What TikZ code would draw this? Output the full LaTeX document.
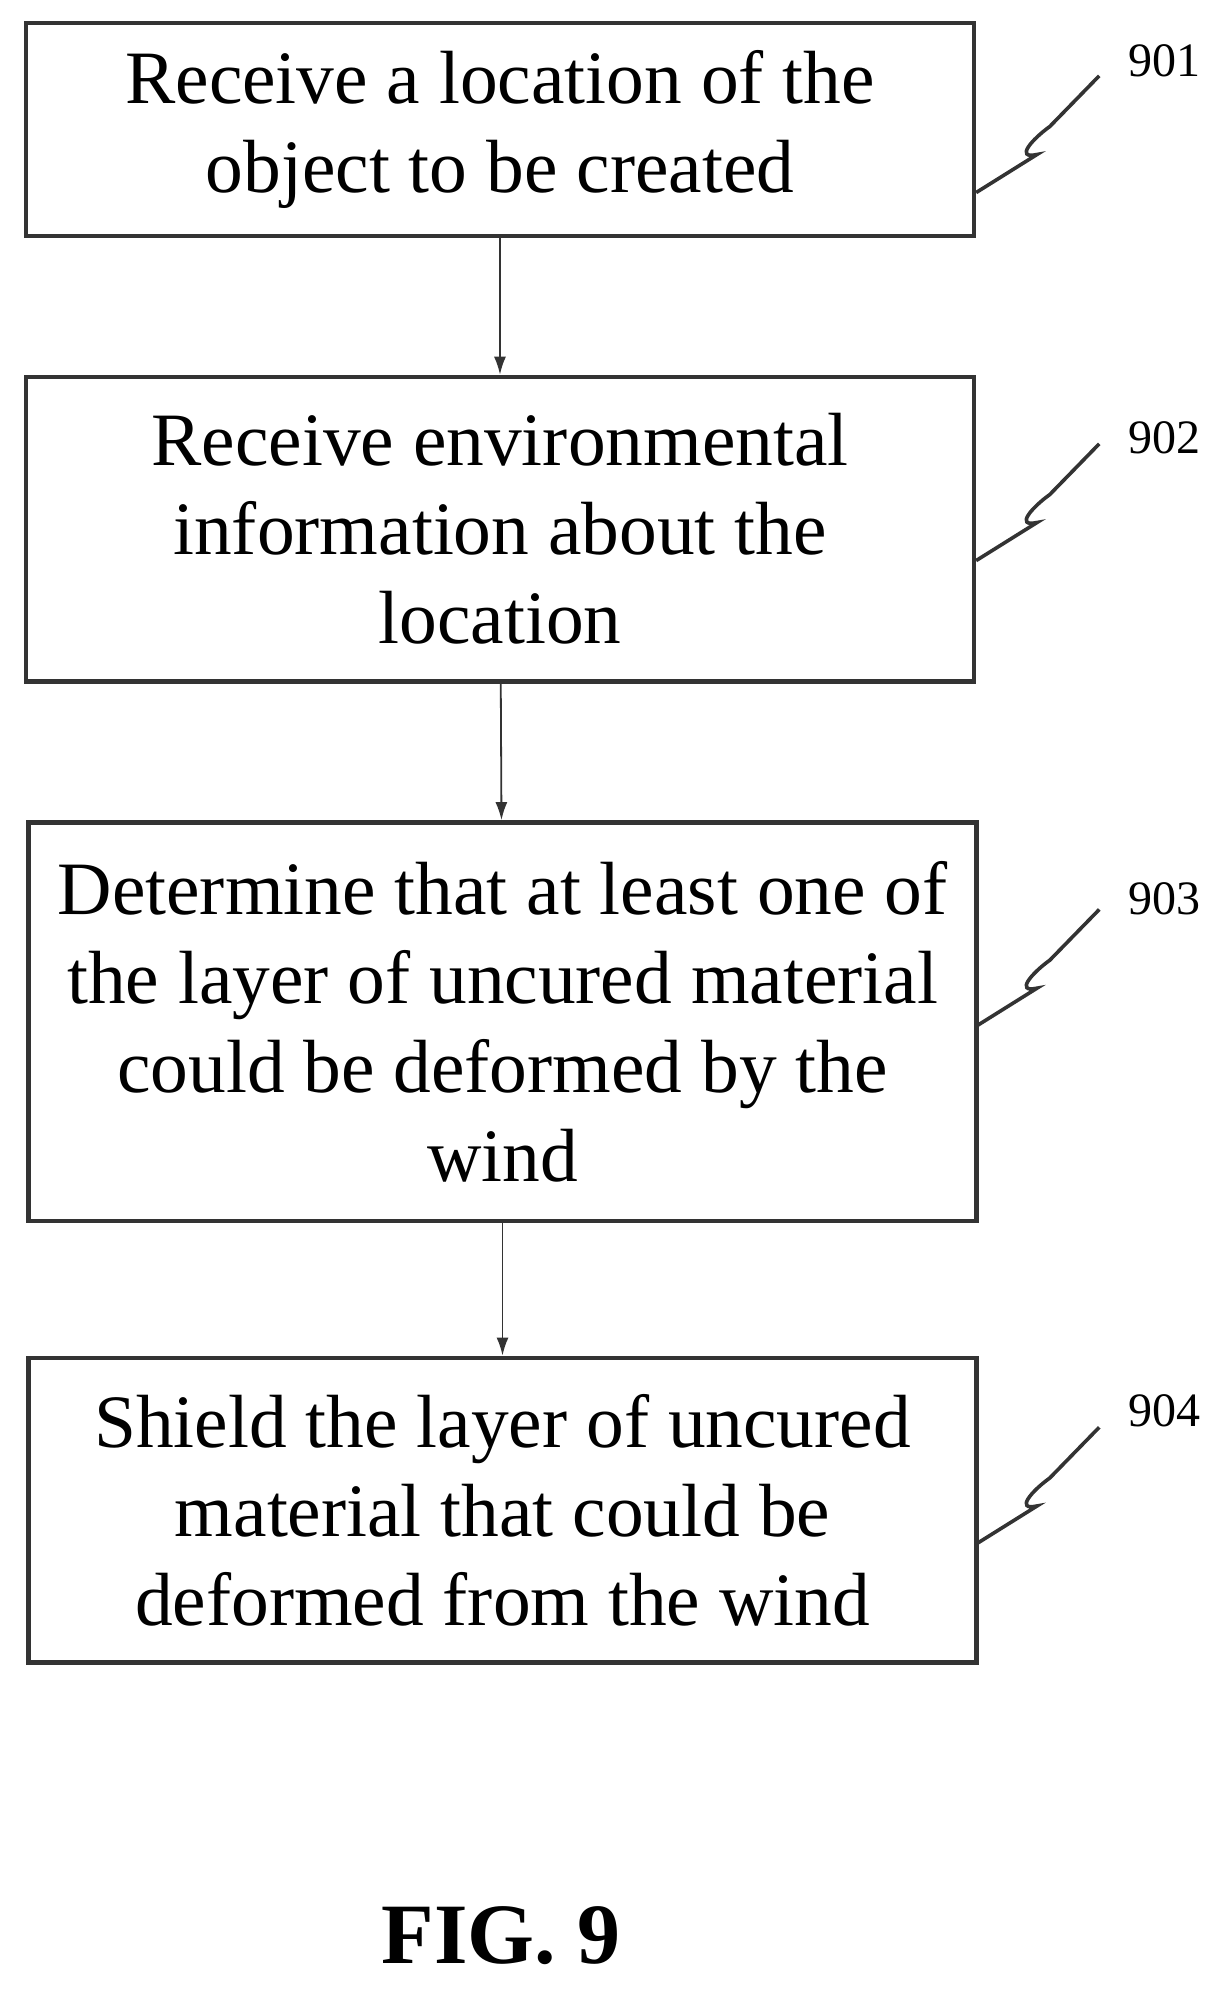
\documentclass[tikz,border=0pt]{standalone}
\usepackage{fontspec}
\setmainfont{Liberation Serif}
\usetikzlibrary{positioning,calc,arrows.meta}

\tikzset{
  stepbox/.style={draw=black!80, line width=2.2pt, align=center, minimum width=474pt,
    inner sep=0pt, font=\fontsize{37.7}{44.5}\selectfont},
  flow/.style={draw=black!80, line width=0.9pt, -{Latex[length=9pt,width=6pt]}},
  lead/.style={draw=black!80, line width=1.8pt},
  tag/.style={font=\fontsize{24}{28}\selectfont, anchor=center}
}

\begin{document}
\begin{tikzpicture}[x=0.6345pt,y=-0.6345pt]
\useasboundingbox (0,0) rectangle (970,1569);

% steps
\node[stepbox, minimum height=106.6pt] (s901) at (394,102) {Receive a location of the\\object to be created};
\node[stepbox, minimum height=152.3pt] (s902) at (394,417) {Receive environmental\\information about the\\location};
\node[stepbox, minimum height=199.2pt] (s903) at (396,805) {Determine that at least one of\\the layer of uncured material\\could be deformed by the\\wind};
\node[stepbox, minimum height=152.3pt] (s904) at (396,1190) {Shield the layer of uncured\\material that could be\\deformed from the wind};

% arrows
\draw[flow] (s901) -- (s902);
\draw[flow] (s902) -- (s903);
\draw[flow] (s903) -- (s904);

% reference numerals
\node[tag] (t901) at (918,48) {901};
\node[tag] (t902) at (918,345) {902};
\node[tag] (t903) at (918,708) {903};
\node[tag] (t904) at (918,1112) {904};

\coordinate (e901) at ($(s901.south east)+(0,-36)$);
\coordinate (e902) at ($(s902.south east)+(0,-97)$);
\coordinate (e903) at ($(s903.south east)+(-2,-155)$);
\coordinate (e904) at ($(s904.south east)+(-2,-95)$);

\foreach \s in {901,902,903,904}{
  \draw[lead] (e\s) -- ++(48,-30) .. controls ++(-18,4) and ++(-14,10) .. ++(10,-22) -- ++(39,-40);
}

% caption
\node[font=\bfseries\fontsize{43}{48}\selectfont] (fig) at (395,1525) {FIG. 9};
\end{tikzpicture}
\end{document}
